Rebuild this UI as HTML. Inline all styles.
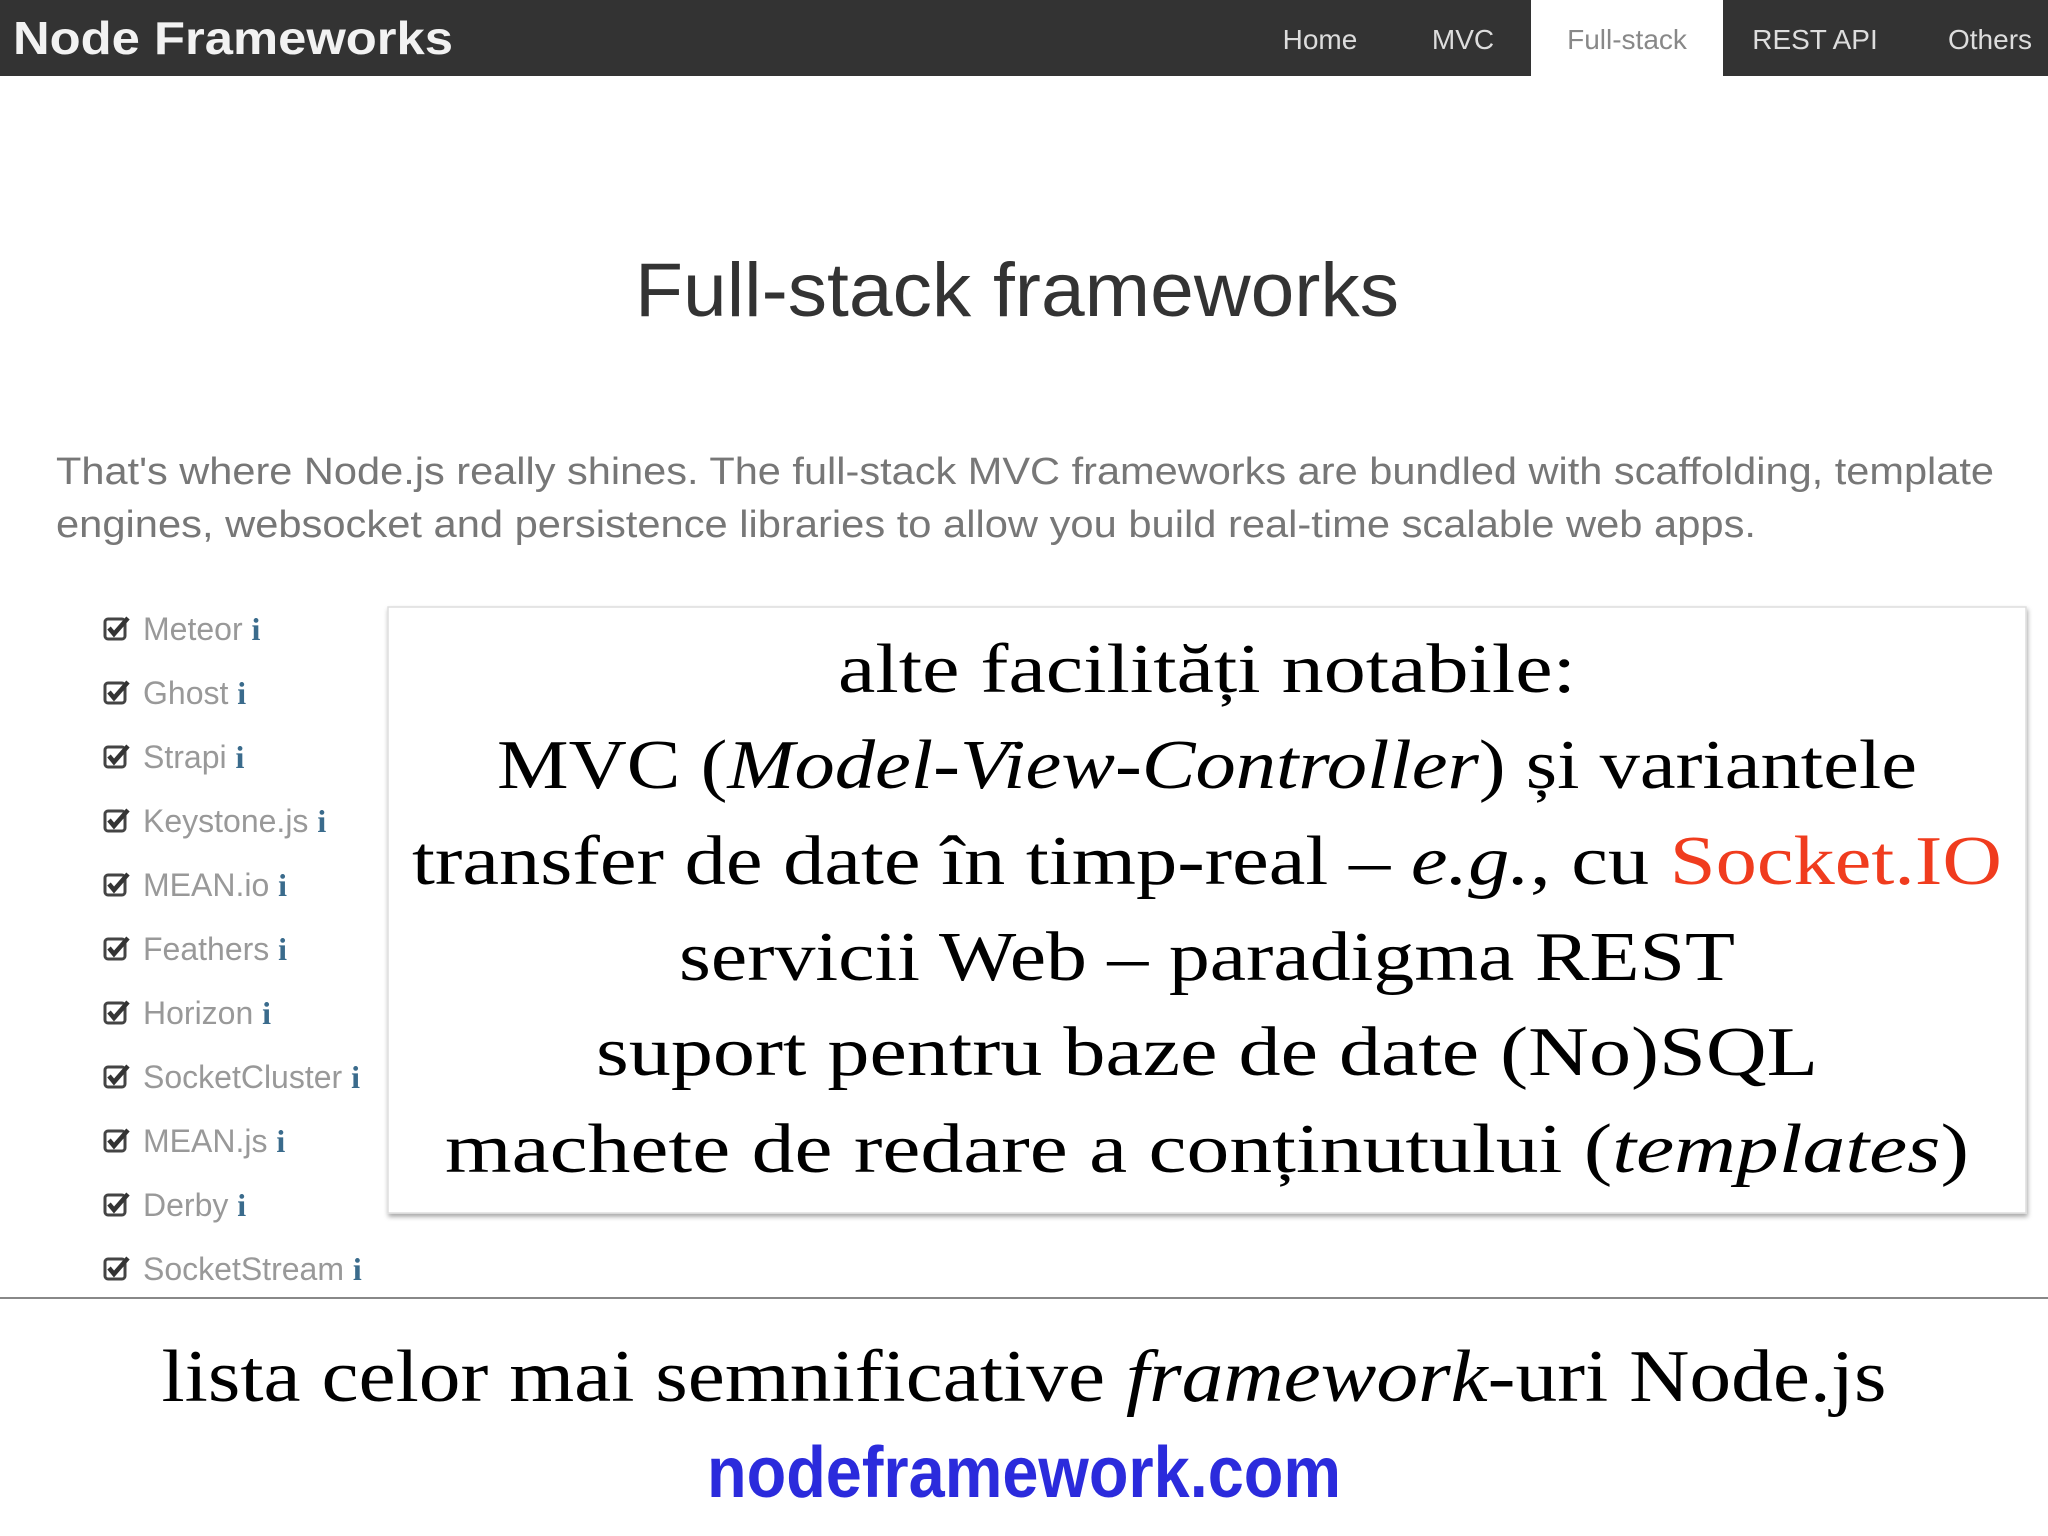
<!DOCTYPE html>
<html><head><meta charset="utf-8"><style>
html,body{margin:0;padding:0;background:#fff;width:2048px;height:1536px;overflow:hidden}
svg{display:block}
</style></head><body>
<svg width="2048" height="1536" viewBox="0 0 2048 1536" xmlns="http://www.w3.org/2000/svg">
<defs>
<filter id="sh" x="-5%" y="-5%" width="110%" height="110%"><feDropShadow dx="1" dy="3" stdDeviation="2.5" flood-color="#000" flood-opacity="0.35"/></filter>
<g id="cb"><rect x="1" y="-21" width="20" height="20" rx="3" fill="none" stroke="#444" stroke-width="3"/><path d="M5 -12 L10 -6 L24 -22" fill="none" stroke="#333" stroke-width="4.5"/></g>
</defs>
<rect x="0" y="0" width="2048" height="76" fill="#333"/>
<rect x="1531" y="0" width="192" height="76" fill="#fff"/>
<text x="13" y="54" font-family="Liberation Sans, sans-serif" font-weight="bold" font-size="46" fill="#f2f2f2" textLength="440" lengthAdjust="spacingAndGlyphs">Node Frameworks</text>
<g font-family="Liberation Sans, sans-serif" font-size="28" fill="#ddd" text-anchor="middle">
<text x="1320" y="49">Home</text>
<text x="1463" y="49">MVC</text>
<text x="1627" y="49" fill="#888">Full-stack</text>
<text x="1815" y="49">REST API</text>
<text x="1990" y="49">Others</text>
</g>
<text x="1017" y="316" font-family="Liberation Sans, sans-serif" font-size="76" fill="#333" text-anchor="middle" textLength="764" lengthAdjust="spacingAndGlyphs">Full-stack frameworks</text>
<g font-family="Liberation Sans, sans-serif" font-size="38" fill="#777">
<text x="56" y="484" textLength="1938" lengthAdjust="spacingAndGlyphs">That's where Node.js really shines. The full-stack MVC frameworks are bundled with scaffolding, template</text>
<text x="56" y="537" textLength="1700" lengthAdjust="spacingAndGlyphs">engines, websocket and persistence libraries to allow you build real-time scalable web apps.</text>
</g>
<g font-family="Liberation Sans, sans-serif" font-size="32" fill="#999">
<g transform="translate(104,640)"><use href="#cb"/><text x="39" y="0">Meteor <tspan fill="#3a6b8c" font-family="Liberation Serif, serif" font-weight="bold">i</tspan></text></g>
<g transform="translate(104,704)"><use href="#cb"/><text x="39" y="0">Ghost <tspan fill="#3a6b8c" font-family="Liberation Serif, serif" font-weight="bold">i</tspan></text></g>
<g transform="translate(104,768)"><use href="#cb"/><text x="39" y="0">Strapi <tspan fill="#3a6b8c" font-family="Liberation Serif, serif" font-weight="bold">i</tspan></text></g>
<g transform="translate(104,832)"><use href="#cb"/><text x="39" y="0">Keystone.js <tspan fill="#3a6b8c" font-family="Liberation Serif, serif" font-weight="bold">i</tspan></text></g>
<g transform="translate(104,896)"><use href="#cb"/><text x="39" y="0">MEAN.io <tspan fill="#3a6b8c" font-family="Liberation Serif, serif" font-weight="bold">i</tspan></text></g>
<g transform="translate(104,960)"><use href="#cb"/><text x="39" y="0">Feathers <tspan fill="#3a6b8c" font-family="Liberation Serif, serif" font-weight="bold">i</tspan></text></g>
<g transform="translate(104,1024)"><use href="#cb"/><text x="39" y="0">Horizon <tspan fill="#3a6b8c" font-family="Liberation Serif, serif" font-weight="bold">i</tspan></text></g>
<g transform="translate(104,1088)"><use href="#cb"/><text x="39" y="0">SocketCluster <tspan fill="#3a6b8c" font-family="Liberation Serif, serif" font-weight="bold">i</tspan></text></g>
<g transform="translate(104,1152)"><use href="#cb"/><text x="39" y="0">MEAN.js <tspan fill="#3a6b8c" font-family="Liberation Serif, serif" font-weight="bold">i</tspan></text></g>
<g transform="translate(104,1216)"><use href="#cb"/><text x="39" y="0">Derby <tspan fill="#3a6b8c" font-family="Liberation Serif, serif" font-weight="bold">i</tspan></text></g>
<g transform="translate(104,1280)"><use href="#cb"/><text x="39" y="0">SocketStream <tspan fill="#3a6b8c" font-family="Liberation Serif, serif" font-weight="bold">i</tspan></text></g>
</g>
<rect x="388" y="607" width="1638" height="606" fill="#fff" stroke="#ddd" stroke-width="1.5" filter="url(#sh)"/>
<g font-family="Liberation Serif, serif" font-size="70" fill="#000" text-anchor="middle">
<text x="1207" y="692" textLength="738" lengthAdjust="spacingAndGlyphs">alte facilități notabile:</text>
<text x="1207" y="788" textLength="1420" lengthAdjust="spacingAndGlyphs">MVC (<tspan font-style="italic">Model-View-Controller</tspan>) și variantele</text>
<text x="1207" y="884" textLength="1590" lengthAdjust="spacingAndGlyphs">transfer de date în timp-real – <tspan font-style="italic">e.g.</tspan>, cu <tspan fill="#f03c1e">Socket.IO</tspan></text>
<text x="1207" y="980" textLength="1056" lengthAdjust="spacingAndGlyphs">servicii Web – paradigma REST</text>
<text x="1207" y="1075" textLength="1222" lengthAdjust="spacingAndGlyphs">suport pentru baze de date (No)SQL</text>
<text x="1207" y="1172" textLength="1524" lengthAdjust="spacingAndGlyphs">machete de redare a conținutului (<tspan font-style="italic">templates</tspan>)</text>
</g>
<rect x="0" y="1297" width="2048" height="2" fill="#888"/>
<text x="1024" y="1401" font-family="Liberation Serif, serif" font-size="74" fill="#000" text-anchor="middle" textLength="1725" lengthAdjust="spacingAndGlyphs">lista celor mai semnificative <tspan font-style="italic">framework</tspan>-uri Node.js</text>
<text x="1024" y="1497" font-family="Liberation Sans, sans-serif" font-weight="bold" font-size="72" fill="#2b2bdc" text-anchor="middle" textLength="634" lengthAdjust="spacingAndGlyphs">nodeframework.com</text>
</svg>
</body></html>
